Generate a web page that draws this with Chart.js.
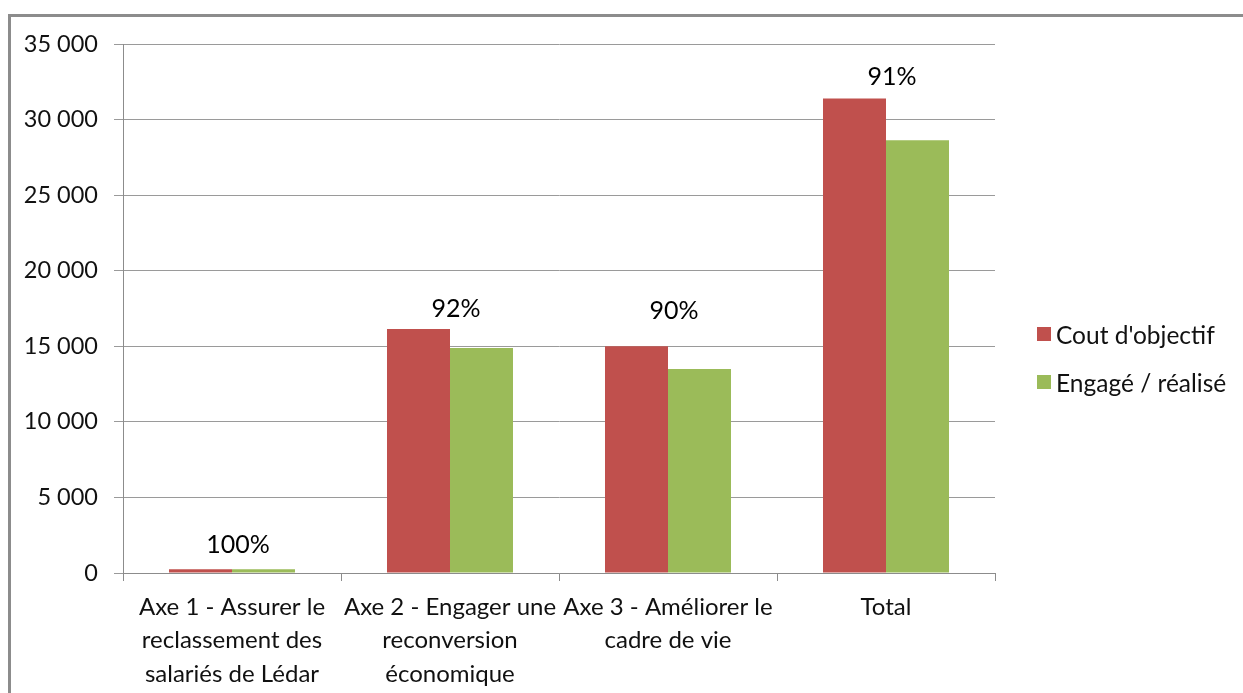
<!DOCTYPE html>
<html>
<head>
<meta charset="utf-8">
<script src="https://cdn.jsdelivr.net/npm/chart.js@4.4.0/dist/chart.umd.min.js"></script>
<style>
    html, body { margin: 0; padding: 0; background: #fff; overflow: hidden; }
    #wrap { position: relative; width: 1243px; height: 693px; overflow: hidden; }
    #frame { position: absolute; left: 8px; top: 14px; width: 1300px; height: 760px; border: 3px solid #8c8c8c; box-sizing: border-box; }
    #chart { position: absolute; left: 0; top: 0; }
    #legend { position: absolute; left: 1037px; top: 310px; font-family: Lato, sans-serif; font-size: 24.5px; color: #111; }
    #legend div { height: 48px; display: flex; align-items: center; }
    #legend span.box { display: inline-block; width: 14px; height: 14px; margin-right: 5px; }
</style>
</head>
<body>
<div id="wrap">
    <div id="frame"></div>
    <canvas id="chart" width="1243" height="693"></canvas>
    <div id="legend"></div>
</div>
<script>
var categories = [
    ['Axe 1 - Assurer le', 'reclassement des', 'salariés de Lédar'],
    ['Axe 2 - Engager une', 'reconversion', 'économique'],
    ['Axe 3 - Améliorer le', 'cadre de vie'],
    'Total'
];
var coutObjectif = [250, 16150, 15000, 31400];
var engageRealise = [250, 14890, 13500, 28640];
var tauxLabels = ['100%', '92%', '90%', '91%'];
var yTicks = [0, 5000, 10000, 15000, 20000, 25000, 30000, 35000];

var rouge = '#C0504D';
var vert = '#9BBB59';
var police = 'Lato, sans-serif';

function formatNombre(v) {
    return String(v).replace(/\B(?=(\d{3})+(?!\d))/g, ' ');
}

// étiquettes de pourcentage au-dessus de chaque groupe
var tauxPlugin = {
    id: 'taux',
    afterDatasetsDraw(chart, args, opts) {
        var ctx = chart.ctx;
        var x = chart.scales.x;
        var y = chart.scales.y;
        ctx.save();
        ctx.font = '25px ' + police;
        ctx.fillStyle = '#000';
        ctx.textAlign = 'center';
        ctx.textBaseline = 'middle';
        tauxLabels.forEach((t, i) => {
            var haut = Math.max(coutObjectif[i], engageRealise[i]);
            ctx.fillText(t, x.getPixelForValue(i) + 6, y.getPixelForValue(haut) - opts.ecarts[i]);
        });
        ctx.restore();
    }
};

var config = {
    type: 'bar',
    data: {
        labels: categories,
        datasets: [
            {
                label: "Cout d'objectif",
                backgroundColor: rouge,
                data: coutObjectif,
            },
            {
                label: 'Engagé / réalisé',
                backgroundColor: vert,
                data: engageRealise,
            }
        ]
    },
    options: {
        responsive: false,
        animation: false,
        layout: { padding: { top: 44, right: 248, left: 0, bottom: 0 } },
        datasets: { bar: { categoryPercentage: 0.578, barPercentage: 1 } },
        plugins: {
            legend: { display: false },
            tooltip: { enabled: false },
            taux: { ecarts: [24, 20, 35, 21] }
        },
        scales: {
            x: {
                afterFit: s => { s.height = 120; },
                grid: { drawOnChartArea: false, color: '#8c8c8c', tickLength: 8, offset: true },
                border: { color: '#8c8c8c' },
                ticks: {
                    color: '#111',
                    font: { family: police, size: 24, lineHeight: 1.38 },
                    padding: 10,
                    maxRotation: 0,
                    autoSkip: false
                }
            },
            y: {
                min: 0,
                max: 35000,
                afterFit: s => { s.width = 123; },
                afterBuildTicks: s => { s.ticks = yTicks.map(v => ({ value: v })); },
                grid: { color: '#9a9a9a', tickLength: 9 },
                border: { color: '#8c8c8c' },
                ticks: {
                    color: '#111',
                    font: { family: police, size: 23.5 },
                    padding: 16,
                    callback: v => formatNombre(v)
                }
            }
        }
    },
    plugins: [tauxPlugin]
};

var legende = document.getElementById('legend');
config.data.datasets.forEach(d => {
    var ligne = document.createElement('div');
    ligne.innerHTML = '<span class="box" style="background:' + d.backgroundColor + '"></span>' + d.label;
    legende.appendChild(ligne);
});

window.onload = () => {
    new Chart(document.getElementById('chart'), config);
};
</script>
</body>
</html>
